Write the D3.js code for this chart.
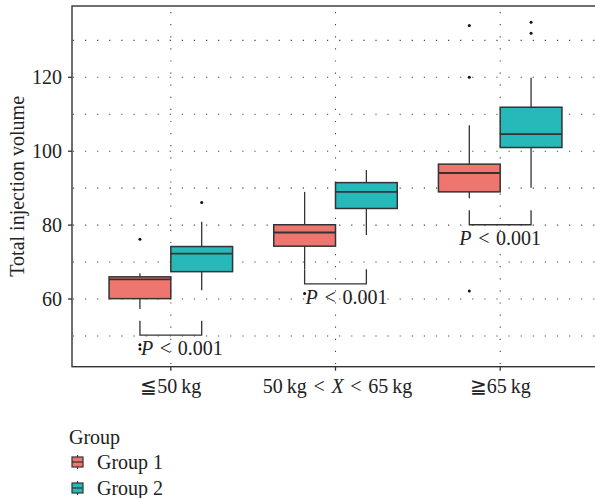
<!DOCTYPE html>
<html>
<head>
<meta charset="utf-8">
<script src="https://cdn.jsdelivr.net/npm/d3@7"></script>
<style>
  body { margin: 0; background: #fff; }
  text { font-family: "Liberation Serif", "DejaVu Serif", serif; fill: #222; }
</style>
</head>
<body>
<svg id="graph" width="595" height="498"></svg>
<script>
// categories and groups
const categories = ['le50', 'mid', 'ge65']
const groups = ['Group 1', 'Group 2']
const colors = ['#EE766F', '#27B8BA']

// box stats: [whiskerLow, q1, median, q3, whiskerHigh]
const group1Stats = [
  [57.3, 60.1, 65.3, 66.0, 67.0],
  [68.1, 74.3, 78.0, 80.1, 89.0],
  [87.3, 89.0, 94.1, 96.5, 107.0]
]
const group2Stats = [
  [62.4, 67.4, 72.3, 74.2, 80.9],
  [77.3, 84.5, 89.0, 91.5, 94.9],
  [90.1, 101.0, 104.6, 111.9, 119.9]
]
const group1Outliers = [[76.2, 47.6, 46.5], [61.5], [134.0, 120.0, 62.2]]
const group2Outliers = [[86.1], [], [134.9, 131.9]]

// significance brackets (y value of bracket)
const bracketY = [50.2, 64.1, 80.1]
const pText = ['0.001', '0.001', '0.001']

const yTicks = [60, 80, 100, 120]
const yGrid = [50, 60, 70, 80, 90, 100, 110, 120, 130]

///////////////////////////////////////////////////

const svg = d3.select('#graph')
const pl = 72, pr = 599, pt = 6, pb = 366.7
const fs = 20

const x = d3.scalePoint().domain(categories).range([pl, pr]).padding(0.6)
const step = x.step()
const dodge = d3.scaleBand().domain(groups).range([-0.375 * step, 0.375 * step])
const y = d3.scaleLinear().domain([41.68, 139.3]).range([pb, pt])

const ink = '#333'

// grid
svg.append('g').selectAll('line').data(yGrid).enter().append('line')
  .attr('x1', pl + 1).attr('x2', pr)
  .attr('y1', d => y(d)).attr('y2', d => y(d))
  .attr('stroke', '#444').attr('stroke-width', 1.1)
  .attr('stroke-dasharray', '1.2,10.9').attr('stroke-dashoffset', -12)

svg.append('g').selectAll('line').data(categories).enter().append('line')
  .attr('x1', d => x(d)).attr('x2', d => x(d))
  .attr('y1', pt + 1).attr('y2', pb)
  .attr('stroke', '#444').attr('stroke-width', 1.1)
  .attr('stroke-dasharray', '1.2,10.9').attr('stroke-dashoffset', -5)

// boxes
const boxData = []
categories.forEach((c, i) => {
  boxData.push({cat: c, g: groups[0], col: colors[0], s: group1Stats[i], out: group1Outliers[i]})
  boxData.push({cat: c, g: groups[1], col: colors[1], s: group2Stats[i], out: group2Outliers[i]})
})

const bw = dodge.bandwidth()
const boxes = svg.append('g').selectAll('g').data(boxData).enter().append('g')
  .attr('transform', d => `translate(${x(d.cat) + dodge(d.g)},0)`)

boxes.append('line')
  .attr('x1', bw / 2).attr('x2', bw / 2)
  .attr('y1', d => y(d.s[0])).attr('y2', d => y(d.s[4]))
  .attr('stroke', ink).attr('stroke-width', 1.3)

boxes.append('rect')
  .attr('x', 0).attr('width', bw)
  .attr('y', d => y(d.s[3])).attr('height', d => y(d.s[1]) - y(d.s[3]))
  .attr('fill', d => d.col).attr('stroke', ink).attr('stroke-width', 1.5)

boxes.append('line')
  .attr('x1', 0).attr('x2', bw)
  .attr('y1', d => y(d.s[2])).attr('y2', d => y(d.s[2]))
  .attr('stroke', ink).attr('stroke-width', 1.8)

boxes.selectAll('circle').data(d => d.out).enter().append('circle')
  .attr('cx', bw / 2).attr('cy', d => y(d)).attr('r', 1.5).attr('fill', '#111')

// brackets + p labels
categories.forEach((c, i) => {
  const x1 = x(c) + dodge(groups[0]) + bw / 2
  const x2 = x(c) + dodge(groups[1]) + bw / 2
  const yb = y(bracketY[i])
  svg.append('path')
    .attr('d', `M${x1},${yb - 14.5}V${yb}H${x2}V${yb - 14.5}`)
    .attr('fill', 'none').attr('stroke', ink).attr('stroke-width', 1.3)
  const t = svg.append('text')
    .attr('y', yb + 20).attr('font-size', fs)
  if (i === 2) t.attr('x', (x1 + x2) / 2).attr('text-anchor', 'middle')
  else t.attr('x', x1 + 1)
  t.append('tspan').attr('font-style', 'italic').text('P')
  t.append('tspan').text('\u2004<\u2004' + pText[i])
})

// panel border
svg.append('rect')
  .attr('x', pl).attr('y', pt).attr('width', pr - pl).attr('height', pb - pt)
  .attr('fill', 'none').attr('stroke', ink).attr('stroke-width', 1.4)

// y axis ticks
svg.append('g').selectAll('line').data(yTicks).enter().append('line')
  .attr('x1', pl - 4).attr('x2', pl)
  .attr('y1', d => y(d)).attr('y2', d => y(d))
  .attr('stroke', ink).attr('stroke-width', 1.3)
svg.append('g').selectAll('text').data(yTicks).enter().append('text')
  .attr('x', pl - 10).attr('y', d => y(d) + 6.5)
  .attr('text-anchor', 'end').attr('font-size', fs)
  .text(d => d)

// x axis ticks
svg.append('g').selectAll('line').data(categories).enter().append('line')
  .attr('x1', d => x(d)).attr('x2', d => x(d))
  .attr('y1', pb).attr('y2', pb + 4)
  .attr('stroke', ink).attr('stroke-width', 1.3)

const xl = svg.append('g').attr('font-size', fs)
const l1 = xl.append('text').attr('x', x(categories[0])).attr('y', 393).attr('text-anchor', 'middle')
l1.text('\u226650\u2009kg')
const l2 = xl.append('text').attr('x', x(categories[1]) + 2).attr('y', 393).attr('text-anchor', 'middle')
l2.append('tspan').text('50\u2009kg\u2004<\u2004')
l2.append('tspan').attr('font-style', 'italic').text('X')
l2.append('tspan').text('\u2004<\u200465\u2009kg')
const l3 = xl.append('text').attr('x', x(categories[2])).attr('y', 393).attr('text-anchor', 'middle')
l3.text('\u226765\u2009kg')

// y title
svg.append('text')
  .attr('transform', `translate(24,${(pt + pb) / 2}) rotate(-90)`)
  .attr('text-anchor', 'middle').attr('font-size', fs)
  .text('Total injection volume')

// legend
svg.append('text').attr('x', 69).attr('y', 444).attr('font-size', fs).text('Group')
const leg = svg.append('g').selectAll('g').data(groups).enter().append('g')
  .attr('transform', (d, i) => `translate(72,${462 + i * 26})`)
leg.append('line').attr('x1', 5.5).attr('x2', 5.5).attr('y1', -7).attr('y2', 7)
  .attr('stroke', ink).attr('stroke-width', 1.2)
leg.append('rect').attr('x', 0).attr('y', -5).attr('width', 11).attr('height', 10)
  .attr('fill', (d, i) => colors[i]).attr('stroke', ink).attr('stroke-width', 1.2)
leg.append('line').attr('x1', 0).attr('x2', 11).attr('y1', 0).attr('y2', 0)
  .attr('stroke', ink).attr('stroke-width', 1.2)
leg.append('text').attr('x', 25).attr('y', 6.5).attr('font-size', fs).text(d => d)
</script>
</body>
</html>
